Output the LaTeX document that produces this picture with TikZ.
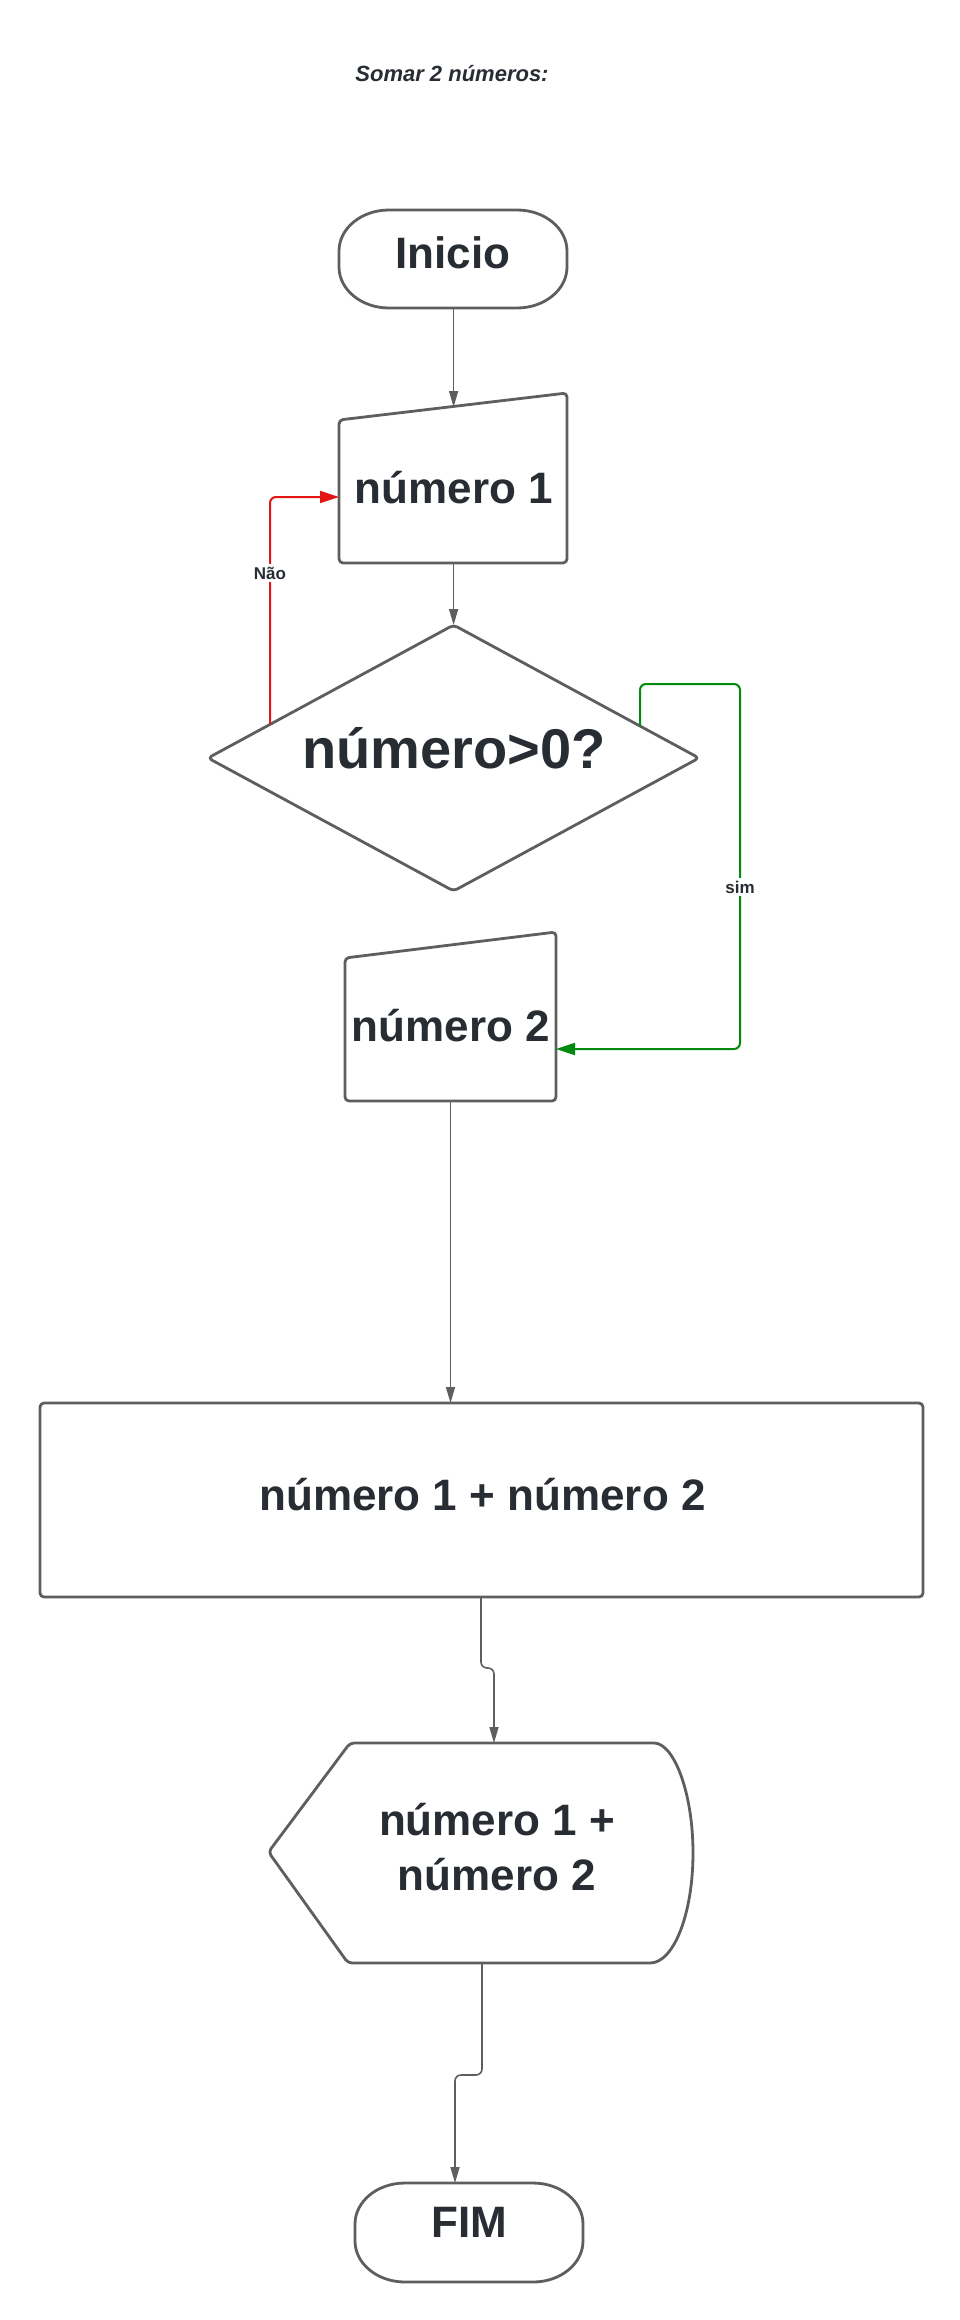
\documentclass[tikz,border=0pt]{standalone}
\usepackage{fontspec}
\setmainfont{Liberation Sans}
\usetikzlibrary{arrows.meta}
\definecolor{lin}{HTML}{5E5E5E}
\definecolor{txt}{HTML}{282C33}
\definecolor{redl}{HTML}{E31414}
\definecolor{grnl}{HTML}{008A0E}
\tikzset{
  shp/.style={draw=lin, line width=2.8pt, line join=round},
  conn/.style={draw=lin, line width=1.6pt, rounded corners=6pt, -{Triangle[length=16pt,width=9pt]}},
  big/.style={text=txt, font=\fontsize{44}{53}\selectfont\bfseries, inner sep=0pt, anchor=base},
  lbl/.style={text=txt, font=\fontsize{17}{20}\selectfont\bfseries, fill=white, inner sep=3pt}
}
\begin{document}
\begin{tikzpicture}[x=1pt,y=-1pt]
\useasboundingbox[fill=white] (0,0) rectangle (959,2320);

% title
\node[text=txt, font=\fontsize{22}{26}\selectfont\bfseries\itshape, anchor=base] (title) at (452,81.5) {Somar 2 números:};

% Inicio
\draw[shp] (389,210) -- (517,210) arc[start angle=90,end angle=0,x radius=50pt,y radius=41pt]
  -- (567,267) arc[start angle=0,end angle=-90,x radius=50pt,y radius=41pt]
  -- (389,308) arc[start angle=270,end angle=180,x radius=50pt,y radius=41pt]
  -- (339,251) arc[start angle=180,end angle=90,x radius=50pt,y radius=41pt] -- cycle;
\node[big] (inicio) at (453,268) {Inicio};
\coordinate (inicioS) at (453.6,308);

% numero 1
\draw[shp, rounded corners=4pt] (339,563) -- (339,420) -- (567,393) -- (567,563) -- cycle;
\node[big] (num1) at (454,503) {número 1};
\coordinate (num1N) at (453.6,407);
\coordinate (num1S) at (453.6,563);
\coordinate (num1W) at (339,497);

% decision
\draw[shp, rounded corners=4pt] (453.6,625) -- (699,758) -- (453.6,891) -- (208,758) -- cycle;
\node[big, font=\fontsize{56}{66}\selectfont\bfseries] (dec) at (454,768) {número>0?};
\coordinate (decN) at (453.6,625);
\coordinate (decNW) at (270,724);
\coordinate (decNE) at (640,726);

% numero 2
\draw[shp, rounded corners=4pt] (345,1101) -- (345,958) -- (556,932) -- (556,1101) -- cycle;
\node[big] (num2) at (451,1041) {número 2};
\coordinate (num2E) at (556,1049);
\coordinate (num2S) at (450.5,1101);

% process
\draw[shp, rounded corners=4pt] (40,1403) rectangle (923,1597);
\node[big] (proc) at (482.5,1510) {número 1 + número 2};
\coordinate (procN) at (450.5,1403);
\coordinate (procS) at (481,1597);

% display
\draw[shp, rounded corners=4pt] (268.5,1852) -- (350,1743) -- (650,1743)
  {[sharp corners] arc[start angle=90,end angle=-90,x radius=43pt,y radius=110pt]}
  -- (348,1963) -- cycle;
\node[big] (disp1) at (497,1835) {número 1 +};
\node[big] (disp2) at (497,1890) {número 2};
\coordinate (dispN) at (494,1743);
\coordinate (dispS) at (482,1963);

% FIM
\draw[shp] (405,2183) -- (533,2183) arc[start angle=90,end angle=0,x radius=50pt,y radius=41pt]
  -- (583,2241) arc[start angle=0,end angle=-90,x radius=50pt,y radius=41pt]
  -- (405,2282) arc[start angle=270,end angle=180,x radius=50pt,y radius=41pt]
  -- (355,2224) arc[start angle=180,end angle=90,x radius=50pt,y radius=41pt] -- cycle;
\node[big] (fim) at (469,2237) {FIM};
\coordinate (fimN) at (455,2183);

% connectors
\draw[conn] (inicioS) -- (num1N);
\draw[conn] (num1S) -- (decN);
\draw[conn] (num2S) -- (procN);
\draw[conn] (procS) -- (481,1668) -- (494,1668) -- (dispN);
\draw[conn] (dispS) -- (482,2075) -- (455,2075) -- (fimN);

\draw[draw=redl, line width=2pt, rounded corners=6pt, -{Triangle[length=19pt,width=12pt]}]
  (decNW) -- (270,497) -- (num1W);
\node[lbl] (nao) at (270,573) {Não};

\draw[draw=grnl, line width=2pt, rounded corners=6pt, -{Triangle[length=19pt,width=12pt]}]
  (decNE) -- (640,684) -- (740,684) -- (740,1049) -- (num2E);
\node[lbl] (sim) at (740,887) {sim};
\end{tikzpicture}
\end{document}
